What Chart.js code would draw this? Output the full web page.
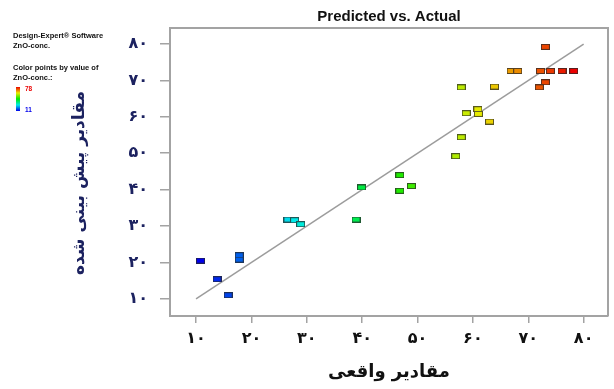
<!DOCTYPE html>
<html>
<head>
<meta charset="utf-8">
<script src="https://cdn.jsdelivr.net/npm/chart.js@4/dist/chart.umd.min.js"></script>
<style>
  html, body { margin: 0; padding: 0; background: #ffffff; }
  canvas { display: block; }
</style>
</head>
<body>
<canvas id="c" width="614" height="389"></canvas>
<script>
// ---- data ----
const actualValues = [73.1, 66.9, 68.1, 72.2, 74.0, 76.1, 78.2, 73.1, 72.0, 57.9, 63.9, 58.8, 60.9, 61.0, 63.0, 57.9, 56.9, 46.8, 39.9, 46.8, 48.9, 38.9, 26.6, 27.8, 28.9, 10.8, 13.8, 15.8, 17.8, 17.8];
const predictedValues = [79.2, 72.6, 72.6, 72.6, 72.6, 72.6, 72.6, 69.5, 68.1, 68.1, 68.3, 61.0, 62.1, 60.8, 58.7, 54.4, 49.2, 44.0, 40.6, 39.7, 41.0, 31.8, 31.8, 31.6, 30.5, 20.5, 15.4, 11.0, 22.0, 20.8];
const fitLineX = [10, 80];
const fitLineY = [10, 80];
const tickValues = [10, 20, 30, 40, 50, 60, 70, 80];
const tickLabels = ['۱۰', '۲۰', '۳۰', '۴۰', '۵۰', '۶۰', '۷۰', '۸۰'];
const colorRange = [11, 78];
const chartTitle = 'Predicted vs. Actual';
const xTitle = 'مقادیر واقعی';
const yTitle = 'مقادیر پیش بینی شده';
const noteLines = ['Design-Expert® Software', 'ZnO-conc.', 'Color points by value of', 'ZnO-conc.:'];

// ---- styling helpers ----
function gradientColor(v) {
  const t = Math.max(0, Math.min(1, (v - colorRange[0]) / (colorRange[1] - colorRange[0])));
  const m = 235;
  let r, g, b;
  if (t < 0.25) { const u = t / 0.25; r = 0; g = m * u; b = m; }
  else if (t < 0.5) { const u = (t - 0.25) / 0.25; r = 0; g = m; b = m * (1 - u); }
  else if (t < 0.75) { const u = (t - 0.5) / 0.25; r = m * u; g = m; b = 0; }
  else { const u = (t - 0.75) / 0.25; r = m; g = m * (1 - u); b = 0; }
  return 'rgb(' + Math.round(r) + ',' + Math.round(g) + ',' + Math.round(b) + ')';
}
const markerCache = {};
function markerFor(v) {
  const col = gradientColor(v);
  if (markerCache[col]) return markerCache[col];
  const c = document.createElement('canvas');
  c.width = 9; c.height = 6;
  const g = c.getContext('2d');
  g.fillStyle = col;
  g.fillRect(0, 0, 9, 6);
  g.strokeStyle = 'rgba(40,40,40,0.75)';
  g.lineWidth = 1;
  g.strokeRect(0.5, 0.5, 8, 5);
  markerCache[col] = c;
  return c;
}

const extrasPlugin = {
  id: 'extras',
  afterDraw(chart) {
    const ctx = chart.ctx;
    const a = chart.chartArea;
    ctx.save();
    // top and right border of plot box
    ctx.strokeStyle = '#a3a3a3';
    ctx.lineWidth = 2;
    ctx.beginPath();
    ctx.moveTo(a.left, a.top);
    ctx.lineTo(a.right, a.top);
    ctx.lineTo(a.right, a.bottom);
    ctx.stroke();
    // title
    ctx.fillStyle = '#111';
    ctx.font = 'bold 15px "Liberation Sans", Arial, sans-serif';
    ctx.textAlign = 'center';
    ctx.textBaseline = 'middle';
    ctx.fillText(chartTitle, (a.left + a.right) / 2, 17);
    // y-axis title (rotated)
    ctx.save();
    ctx.translate(80, 183);
    ctx.rotate(-Math.PI / 2);
    ctx.fillStyle = '#1c2260';
    ctx.font = 'bold 17px "DejaVu Sans", sans-serif';
    ctx.fillText(yTitle, 0, 0);
    ctx.restore();
    // notes
    ctx.textAlign = 'left';
    ctx.fillStyle = '#111';
    ctx.font = 'bold 7.5px "Liberation Sans", Arial, sans-serif';
    const ys = [36, 46, 68, 78];
    noteLines.forEach((t, i) => ctx.fillText(t, 13, ys[i]));
    // colour bar
    const x0 = 16, y0 = 87, y1 = 111;
    const grad = ctx.createLinearGradient(0, y1, 0, y0);
    [0, 0.25, 0.5, 0.75, 1].forEach(s => grad.addColorStop(s, gradientColor(colorRange[0] + s * (colorRange[1] - colorRange[0]))));
    ctx.fillStyle = grad;
    ctx.fillRect(x0, y0, 4, y1 - y0);
    ctx.font = 'bold 6.5px "Liberation Sans", Arial, sans-serif';
    ctx.fillStyle = gradientColor(colorRange[1]);
    ctx.fillText(String(colorRange[1]), 25, 89);
    ctx.fillStyle = gradientColor(colorRange[0]);
    ctx.fillText(String(colorRange[0]), 25, 110);
    ctx.restore();
  }
};

const setTicks = s => { s.ticks = tickValues.map(v => ({ value: v })); };
const labelFor = v => { const i = tickValues.indexOf(v); return i >= 0 ? tickLabels[i] : ''; };

new Chart(document.getElementById('c'), {
  type: 'scatter',
  data: {
    datasets: [
      {
        type: 'line',
        data: fitLineX.map((x, i) => ({ x: x, y: fitLineY[i] })),
        borderColor: '#9c9c9c',
        borderWidth: 1.5,
        pointRadius: 0,
        fill: false,
        order: 2
      },
      {
        data: actualValues.map((x, i) => ({ x: x, y: predictedValues[i] })),
        pointStyle: c => markerFor(c.raw ? c.raw.x : colorRange[0]),
        pointRadius: 4,
        order: 1
      }
    ]
  },
  options: {
    responsive: false,
    animation: false,
    events: [],
    layout: { padding: { top: 28, right: 6, left: 0, bottom: 0 } },
    plugins: { legend: { display: false }, tooltip: { enabled: false } },
    scales: {
      x: {
        type: 'linear', min: 5.3, max: 84.4,
        afterBuildTicks: setTicks,
        afterFit: s => { s.height = 73; },
        grid: { drawOnChartArea: false, tickLength: 7, color: '#a3a3a3', lineWidth: 1.5 },
        border: { color: '#a3a3a3', width: 2 },
        ticks: {
          callback: labelFor, padding: 6, maxRotation: 0, autoSkip: false,
          color: '#111', font: { family: '"DejaVu Sans", sans-serif', size: 16, weight: 'bold' }
        },
        title: {
          display: true, text: xTitle, color: '#111',
          font: { family: '"DejaVu Sans", sans-serif', size: 18, weight: 'bold' },
          padding: { top: 0, bottom: 6 }
        }
      },
      y: {
        type: 'linear', min: 5.3, max: 84.4,
        afterBuildTicks: setTicks,
        afterFit: s => { s.width = 170; },
        grid: { drawOnChartArea: false, tickLength: 10, color: '#a3a3a3', lineWidth: 1.5 },
        border: { color: '#a3a3a3', width: 2 },
        ticks: {
          callback: labelFor, padding: 12, autoSkip: false,
          color: '#1c2260', font: { family: '"DejaVu Sans", sans-serif', size: 16, weight: 'bold' }
        },
        title: { display: false }
      }
    }
  },
  plugins: [extrasPlugin]
});
</script>
</body>
</html>
